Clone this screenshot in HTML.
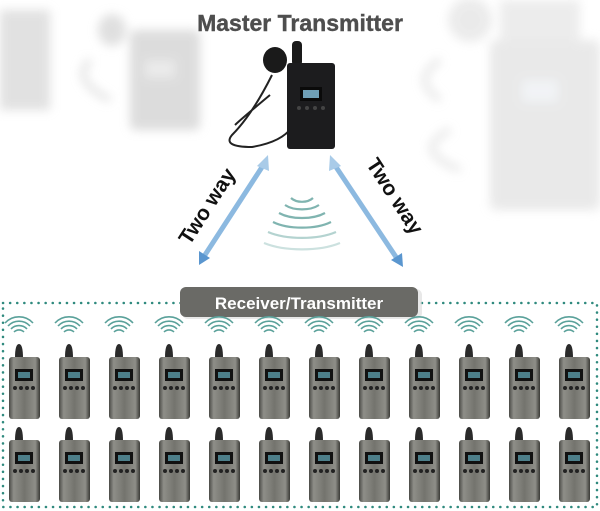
<!DOCTYPE html>
<html><head><meta charset="utf-8"><style>
html,body{margin:0;padding:0;background:#fff;}
svg{display:block;}
</style></head><body>
<svg width="600" height="511" viewBox="0 0 600 511" xmlns="http://www.w3.org/2000/svg">
<defs>
<filter id="bl" x="-20%" y="-20%" width="140%" height="140%"><feGaussianBlur stdDeviation="5"/></filter>
<linearGradient id="bd" x1="0" x2="1"><stop offset="0" stop-color="#4a4a46"/><stop offset="0.15" stop-color="#8e8e88"/><stop offset="0.5" stop-color="#74746e"/><stop offset="0.85" stop-color="#8e8e88"/><stop offset="1" stop-color="#3a3a36"/></linearGradient>
<g id="rx">
  <path d="M-9,-27 q0,-14 4,-14 q4,0 4,14z" fill="#2a2a2a"/>
  <rect x="-15" y="-28" width="31" height="62" rx="3" fill="url(#bd)"/>
  <rect x="-9" y="-16" width="18" height="12" fill="#111"/>
  <rect x="-6" y="-13" width="12" height="6" fill="#4d7f8a"/>
  <circle cx="-9" cy="3" r="2" fill="#222"/><circle cx="-3" cy="3" r="2" fill="#222"/><circle cx="3" cy="3" r="2" fill="#222"/><circle cx="9" cy="3" r="2" fill="#222"/>
</g>
<g id="wv" fill="none" stroke="#5aa19a" stroke-width="1.6">
  <path d="M-5,-6 a7,7 0 0 1 10,0"/><path d="M-8,-9 a11,11 0 0 1 16,0"/><path d="M-11,-12 a15,15 0 0 1 22,0"/><path d="M-14,-15 a19,19 0 0 1 28,0"/>
</g>
</defs>
<!-- faded background -->
<g filter="url(#bl)" opacity="0.8">
  <rect x="490" y="40" width="110" height="170" rx="6" fill="#e4e4e4"/>
  <rect x="522" y="80" width="36" height="22" fill="#eef1f4"/>
  <rect x="500" y="0" width="80" height="40" fill="#e8e8e8"/>
  <ellipse cx="470" cy="20" rx="22" ry="22" fill="#e6e6e6"/>
  <path d="M440,60 q-30,20 0,40 M450,130 q-40,20 10,40" stroke="#e0e0e0" stroke-width="6" fill="none"/>
  <rect x="0" y="10" width="50" height="100" fill="#dadada"/>
  <rect x="130" y="30" width="70" height="100" rx="5" fill="#d4d4d4"/>
  <rect x="145" y="60" width="30" height="18" fill="#e6e6e6"/>
  <ellipse cx="112" cy="30" rx="14" ry="16" fill="#d8d8d8"/>
  <path d="M90,60 q-20,20 20,40" stroke="#dcdcdc" stroke-width="6" fill="none"/>
</g>
<text x="300" y="31" text-anchor="middle" font-family="Liberation Sans, sans-serif" font-weight="bold" font-size="23" fill="#4e4e4e" stroke="#4e4e4e" stroke-width="0.4">Master Transmitter</text>
<!-- master device -->
<path d="M272,75 q-20,40 -40,60 q-10,12 20,12 q30,-5 40,-20 M270,95 q-30,25 -35,30" stroke="#222" stroke-width="2" fill="none"/>
<ellipse cx="275" cy="60" rx="12" ry="13" fill="#1a1a1a"/>
<rect x="292" y="41" width="10" height="25" rx="4" fill="#1a1a1a"/>
<rect x="287" y="63" width="48" height="86" rx="3" fill="#1c1c1e"/>
<rect x="300" y="87" width="22" height="14" fill="#0a0a0a"/><rect x="303" y="90" width="16" height="8" fill="#6f9fb6"/>
<circle cx="299" cy="108" r="2" fill="#444"/><circle cx="307" cy="108" r="2" fill="#444"/><circle cx="315" cy="108" r="2" fill="#444"/><circle cx="323" cy="108" r="2" fill="#444"/>
<!-- arrows -->
<g stroke="#8cb9e0" stroke-width="5">
<line x1="264" y1="164" x2="203" y2="258"/><line x1="334" y1="164" x2="398" y2="260"/>
</g>
<polygon points="268,155 257,166 269,171" fill="#a9cbe8"/>
<polygon points="199,265 199,251 210,258" fill="#5a96cf"/>
<polygon points="330,155 341,166 329,171" fill="#a9cbe8"/>
<polygon points="403,267 391,260 402,253" fill="#5a96cf"/>
<text transform="translate(213,210) rotate(-57)" text-anchor="middle" font-family="Liberation Sans, sans-serif" font-weight="bold" font-size="21" fill="#111">Two way</text>
<text transform="translate(389,200) rotate(57)" text-anchor="middle" font-family="Liberation Sans, sans-serif" font-weight="bold" font-size="21" fill="#111">Two way</text>
<!-- center waves -->
<g fill="none" stroke="#6aa8a3" stroke-width="2.2" opacity="0.85">
<path d="M291,198 a14,10 0 0 0 22,0"/><path d="M285,205 a22,12 0 0 0 34,0"/><path d="M279,213 a30,14 0 0 0 46,0"/><path d="M273,222 a38,16 0 0 0 58,0"/><path d="M268,232 a46,18 0 0 0 68,0" opacity="0.6"/><path d="M264,243 a52,20 0 0 0 76,0" opacity="0.4"/>
</g>
<!-- dotted box -->
<rect x="3" y="303" width="594" height="204" fill="none" stroke="#2f8a7e" stroke-width="2.5" stroke-dasharray="0.1 7" stroke-linecap="round"/>
<rect x="182" y="289" width="240" height="30" rx="6" fill="#d8d8d8" opacity="0.6"/>
<rect x="180" y="287" width="238" height="30" rx="6" fill="#6a6a66"/>
<text x="299" y="309" text-anchor="middle" font-family="Liberation Sans, sans-serif" font-weight="bold" font-size="17" fill="#fff">Receiver/Transmitter</text>
<g>
<use href="#wv" x="19" y="338"/><use href="#wv" x="69" y="338"/><use href="#wv" x="119" y="338"/><use href="#wv" x="169" y="338"/><use href="#wv" x="219" y="338"/><use href="#wv" x="269" y="338"/><use href="#wv" x="319" y="338"/><use href="#wv" x="369" y="338"/><use href="#wv" x="419" y="338"/><use href="#wv" x="469" y="338"/><use href="#wv" x="519" y="338"/><use href="#wv" x="569" y="338"/>
<use href="#rx" x="24" y="385"/><use href="#rx" x="74" y="385"/><use href="#rx" x="124" y="385"/><use href="#rx" x="174" y="385"/><use href="#rx" x="224" y="385"/><use href="#rx" x="274" y="385"/><use href="#rx" x="324" y="385"/><use href="#rx" x="374" y="385"/><use href="#rx" x="424" y="385"/><use href="#rx" x="474" y="385"/><use href="#rx" x="524" y="385"/><use href="#rx" x="574" y="385"/>
<use href="#rx" x="24" y="468"/><use href="#rx" x="74" y="468"/><use href="#rx" x="124" y="468"/><use href="#rx" x="174" y="468"/><use href="#rx" x="224" y="468"/><use href="#rx" x="274" y="468"/><use href="#rx" x="324" y="468"/><use href="#rx" x="374" y="468"/><use href="#rx" x="424" y="468"/><use href="#rx" x="474" y="468"/><use href="#rx" x="524" y="468"/><use href="#rx" x="574" y="468"/>
</g>
</svg>
</body></html>
